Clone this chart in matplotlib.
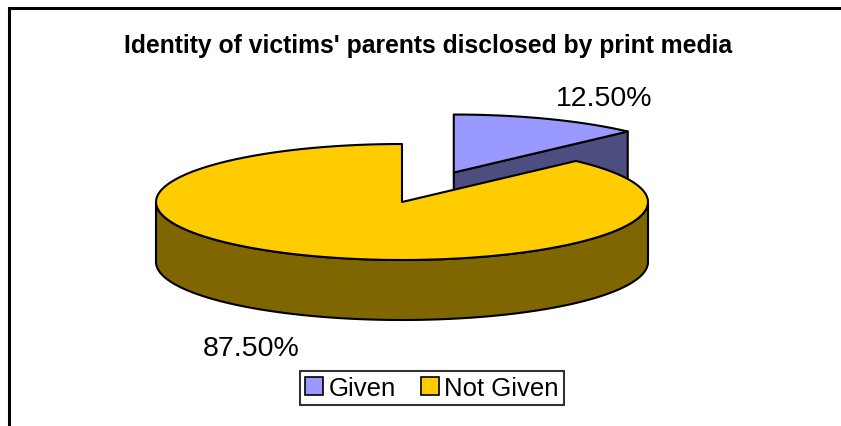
import numpy as np
import matplotlib.pyplot as plt
from matplotlib.patches import Polygon, Patch

plt.rcParams['font.family'] = ['Liberation Sans', 'DejaVu Sans']

# data
labels = ['Given', 'Not Given']
values = [12.5, 87.5]
pct_text = ['12.50%', '87.50%']
top_colors = ['#9999FF', '#FFCC00']
side_colors = ['#4D4D80', '#806600']
title = "Identity of victims' parents disclosed by print media"

# pie geometry (pixels)
cx, cy = 402, 203
A, B = 246, 58
depth = 60
explode = [0.55, 0.0]


def pt(theta, ox, oy, dz=0.0):
    t = np.radians(theta)
    return ox + A * np.cos(t), oy - B * np.sin(t) + dz


def arc(t_from, t_to, ox, oy, dz=0.0, n=120):
    th = np.linspace(t_from, t_to, n)
    x, y = pt(th, ox, oy, dz)
    return list(zip(x, y))


fig = plt.figure(figsize=(8.41, 4.27), dpi=100)
ax = fig.add_axes([0, 0, 1, 1])
ax.set_xlim(0, 841)
ax.set_ylim(427, 0)
ax.axis('off')

# frame (only top/left show)
ax.plot([9, 9, 841], [427, 9, 9], color='black', lw=2.2, solid_joinstyle='miter')

total = sum(values)
slices = []
start = 90.0
for i, v in enumerate(values):
    t0 = start
    t1 = start - 360.0 * v / total
    mid = (t0 + t1) / 2
    m = np.radians(mid)
    ox = cx + explode[i] * A * np.cos(m)
    oy = cy - explode[i] * B * np.sin(m)
    slices.append((i, t0, t1, mid, ox, oy))
    start = t1

# back slices first
slices.sort(key=lambda s: -np.sin(np.radians(s[3])) * explode[s[0]] - np.sin(np.radians(s[3])))

kw = dict(ec='black', lw=1.5, joinstyle='round')
for i, t0, t1, mid, ox, oy in slices:
    # radial faces
    for t, vis in ((t0, np.cos(np.radians(t0)) < -1e-9), (t1, np.cos(np.radians(t1)) > 1e-9)):
        if vis:
            px, py = pt(t, ox, oy)
            face = [(ox, oy), (px, py), (px, py + depth), (ox, oy + depth)]
            ax.add_patch(Polygon(face, closed=True, fc=side_colors[i], **kw))
    # outer side, front half only
    for k in range(-2, 3):
        lo = max(t1, 180 + 360 * k)
        hi = min(t0, 360 + 360 * k)
        if hi > lo:
            side = arc(lo, hi, ox, oy) + arc(hi, lo, ox, oy, depth)
            ax.add_patch(Polygon(side, closed=True, fc=side_colors[i], **kw))
    # top
    top = [(ox, oy)] + arc(t0, t1, ox, oy)
    ax.add_patch(Polygon(top, closed=True, fc=top_colors[i], **kw))
    # percent label
    m = np.radians(mid)
    front = np.sin(m) < 0
    lx = ox + 1.6 * A * np.cos(m)
    ly = oy - (1.6 if front else 1.4) * B * np.sin(m) + (depth if front else 0)
    ax.text(lx, ly, pct_text[i], fontsize=20.5, ha='center', va='center')

ax.text(428, 46, title, fontsize=17.8, fontweight='bold', ha='center', va='center')

handles = [Patch(fc=top_colors[i], ec='black', lw=1.2, label=labels[i]) for i in range(len(labels))]
leg = fig.legend(handles=handles, loc='center', bbox_to_anchor=(432 / 841, 1 - 389 / 427),
                 ncol=2, fontsize=18.5, frameon=True, fancybox=False, handlelength=0.7,
                 handleheight=0.7, handletextpad=0.2, columnspacing=1.0, borderpad=0.2,
                 borderaxespad=0)
leg.get_frame().set_edgecolor('black')
leg.get_frame().set_linewidth(1.5)

fig.savefig('out.png', dpi=100)
